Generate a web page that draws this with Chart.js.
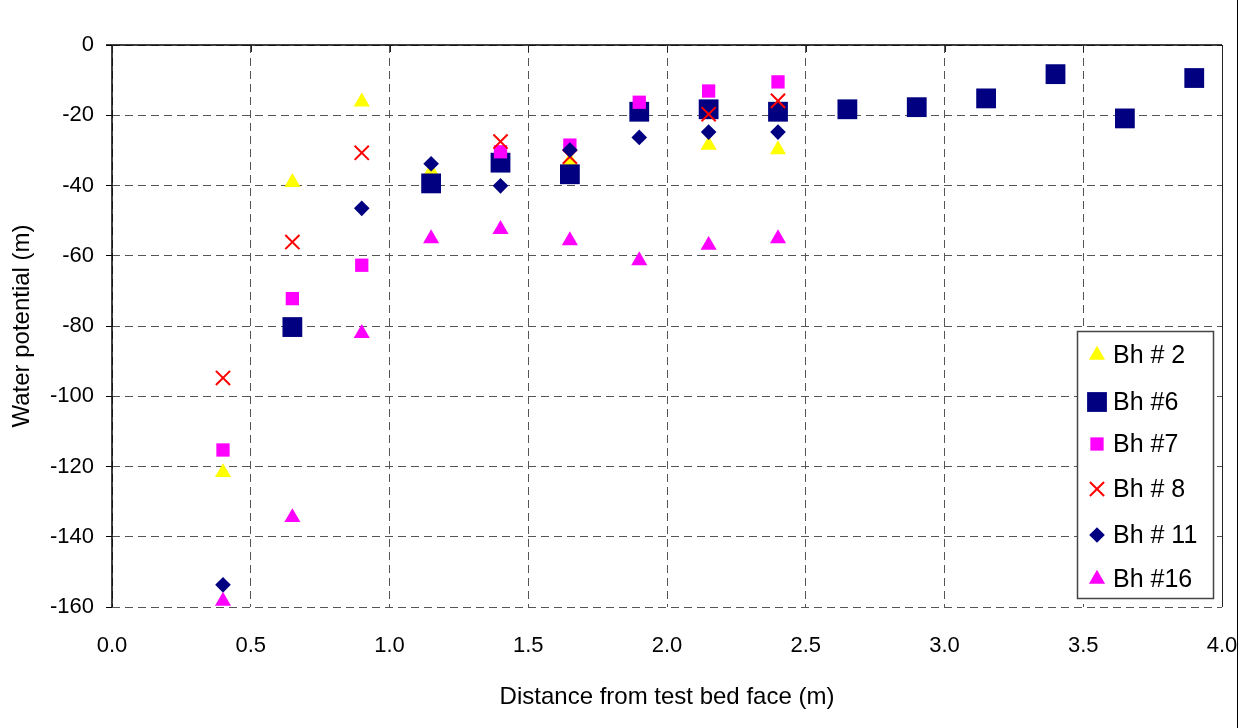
<!DOCTYPE html>
<html>
<head>
<meta charset="utf-8">
<script src="https://cdn.jsdelivr.net/npm/chart.js"></script>
<style>
  html, body { margin: 0; padding: 0; background: #fff; }
  #wrap { width: 1241px; height: 728px; }
</style>
</head>
<body>
<div id="wrap"><canvas id="chart" width="1241" height="728"></canvas></div>
<script>
// distances from test bed face (m)
const distance = [0.4, 0.65, 0.9, 1.15, 1.4, 1.65, 1.9, 2.15, 2.4, 2.65, 2.9, 3.15, 3.4, 3.65, 3.9];

// water potential (m) per borehole, null = no reading visible
const bh2  = [-121.7, -39.1, -16.2, -36, null, -33, null, -28.5, -29.8, null, null, null, null, null, null];
const bh6  = [null, -80.3, null, -39.4, -33.5, -36.8, -19, -18.3, -19, -18.3, -17.7, -15.2, -8.3, -20.9, -9.4];
const bh7  = [-115.3, -72.2, -62.7, null, -30.4, -28.5, -16.3, -13.1, -10.5, null, null, null, null, null, null];
const bh8  = [-94.8, -56.1, -30.7, null, -27.5, -31.8, null, -19.7, -15.9, null, null, null, null, null, null];
const bh11 = [-153.7, null, -46.5, -33.8, -40.1, -29.9, -26.3, -24.8, -24.8, null, null, null, null, null, null];
const bh16 = [-158.3, -134.5, -82.1, -55.1, -52.5, -55.7, -61.4, -57, -55.1, null, null, null, null, null, null];

const xTicks = [0, 0.5, 1, 1.5, 2, 2.5, 3, 3.5, 4];
const yTicks = [0, -20, -40, -60, -80, -100, -120, -140, -160];

function pts(vals) {
  return distance.map((x, i) => ({ x, y: vals[i] })).filter(p => p.y !== null);
}

const series = [
  { label: "Bh # 2",  data: bh2,  style: "triangle", color: "#FFFF00", r: 9.3, order: 5 },
  { label: "Bh #6",   data: bh6,  style: "rect",     color: "#000080", r: 14,  order: 4 },
  { label: "Bh #7",   data: bh7,  style: "rect",     color: "#FF00FF", r: 9.4, order: 3 },
  { label: "Bh # 8",  data: bh8,  style: "crossRot", color: "#FF0000", r: 10,  order: 2 },
  { label: "Bh # 11", data: bh11, style: "rectRot",  color: "#000080", r: 7.8, order: 1 },
  { label: "Bh #16",  data: bh16, style: "triangle", color: "#FF00FF", r: 9.3, order: 0 }
];

const datasets = series.map(s => ({
  label: s.label,
  data: pts(s.data),
  order: s.order,
  pointStyle: s.style,
  pointRadius: s.r,
  pointHoverRadius: s.r,
  backgroundColor: s.color,
  borderColor: s.color,
  pointBorderWidth: s.style === "crossRot" ? 2 : 0,
  showLine: false
}));

// solid frame lines (axis at 0 on top, left axis, right edge) and outer border
const framePlugin = {
  id: "frame",
  afterDraw(chart) {
    const { ctx, chartArea: a } = chart;
    const xs = chart.scales.x;
    ctx.save();
    ctx.strokeStyle = "#000";
    ctx.lineWidth = 1.5;
    ctx.beginPath();
    ctx.moveTo(a.left - 6, a.top);
    ctx.lineTo(a.right, a.top);
    ctx.moveTo(a.left, a.top);
    ctx.lineTo(a.left, a.bottom);
    ctx.stroke();
    ctx.lineWidth = 1;
    ctx.strokeStyle = "#222";
    ctx.beginPath();
    ctx.moveTo(a.right + 0.5, a.top);
    ctx.lineTo(a.right + 0.5, a.bottom);
    xTicks.forEach(v => {
      const px = Math.round(xs.getPixelForValue(v)) + 0.5;
      ctx.moveTo(px, a.top);
      ctx.lineTo(px, a.top + 7);
    });
    ctx.stroke();
    ctx.strokeStyle = "#000";
    ctx.beginPath();
    ctx.moveTo(1237.5, 0);
    ctx.lineTo(1237.5, 728);
    ctx.stroke();
    ctx.restore();
  }
};

// boxed legend inside the plot area
const legendPlugin = {
  id: "boxLegend",
  afterDraw(chart) {
    const { ctx } = chart;
    const rows = [355, 402, 444, 489, 535, 579];
    ctx.save();
    ctx.fillStyle = "#fff";
    ctx.fillRect(1077, 331, 136, 268);
    ctx.strokeStyle = "#444";
    ctx.lineWidth = 1.5;
    ctx.strokeRect(1077.5, 331.5, 136, 267);
    series.forEach((s, i) => {
      ctx.fillStyle = s.color;
      ctx.strokeStyle = s.color;
      ctx.lineWidth = s.style === "crossRot" ? 2 : 0;
      Chart.helpers.drawPoint(ctx, {
        pointStyle: s.style,
        radius: s.r,
        borderWidth: s.style === "crossRot" ? 2 : 0,
        rotation: 0
      }, 1097, rows[i]);
      ctx.fillStyle = "#000";
      ctx.font = "25px 'Liberation Sans', Arial, sans-serif";
      ctx.textBaseline = "middle";
      ctx.textAlign = "left";
      ctx.fillText(s.label, 1113, rows[i] + 1);
    });
    ctx.restore();
  }
};

const font = "'Liberation Sans', Arial, sans-serif";

new Chart(document.getElementById("chart"), {
  type: "scatter",
  data: { datasets },
  plugins: [framePlugin, legendPlugin],
  options: {
    responsive: false,
    animation: false,
    devicePixelRatio: 1,
    layout: { padding: { left: 0, top: 45, right: 19, bottom: 0 } },
    plugins: {
      legend: { display: false },
      tooltip: { enabled: false }
    },
    scales: {
      x: {
        type: "linear",
        min: 0,
        max: 4,
        afterFit(scale) {
          scale.height = 121;
          scale.paddingLeft = 0;
          scale.paddingRight = 0;
        },
        afterBuildTicks(scale) { scale.ticks = xTicks.map(v => ({ value: v })); },
        ticks: {
          padding: 26,
          color: "#000",
          font: { family: font, size: 22 },
          callback: v => v.toFixed(1)
        },
        grid: { color: "#555", lineWidth: 1, drawTicks: false },
        border: { display: false, dash: [8, 5] },
        title: {
          display: true,
          text: "Distance from test bed face (m)",
          color: "#000",
          font: { family: font, size: 24 },
          padding: { top: 0, bottom: 16 }
        }
      },
      y: {
        type: "linear",
        min: -160,
        max: 0,
        afterFit(scale) { scale.width = 112; },
        afterBuildTicks(scale) { scale.ticks = yTicks.map(v => ({ value: v })); },
        ticks: {
          padding: 12,
          color: "#000",
          font: { family: font, size: 22 }
        },
        grid: {
          color: "#555",
          lineWidth: 1,
          drawTicks: true,
          tickLength: 6,
          tickColor: "#000",
          tickBorderDash: []
        },
        border: { display: false, dash: [8, 5] },
        title: {
          display: true,
          text: "Water potential (m)",
          color: "#000",
          font: { family: font, size: 24 },
          padding: { top: 8, bottom: 0 }
        }
      }
    }
  }
});
</script>
</body>
</html>
